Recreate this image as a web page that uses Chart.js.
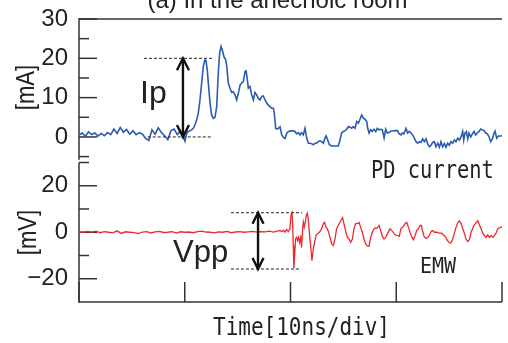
<!DOCTYPE html>
<html><head><meta charset="utf-8">
<script src="https://cdn.jsdelivr.net/npm/chart.js@4/dist/chart.umd.min.js"></script>
<style>html,body{margin:0;padding:0;background:#fff;overflow:hidden}canvas{display:block}</style>
</head><body>
<canvas id="c" width="508" height="343"></canvas>
<script>
// ---------- texts ----------
const titleText = "(a) In the anechoic room";
const xAxisTitle = "Time[10ns/div]";
const topUnit = "[mA]";
const botUnit = "[mV]";
const seriesNames = ["PD current", "EMW"];
const markerNames = ["Ip", "Vpp"];

// ---------- ticks ----------
const xTickValues = [0, 10, 20, 30, 40];
const topTickValues = [0, 10, 20, 30];
const topTickLabels = ["0", "10", "20", "30"];
const topMinorTicks = [-5, 5, 15, 25];
const botTickValues = [-20, 0, 20];
const botTickLabels = ["\u221220", "0", "20"];
const botMinorTicks = [-10, 10, 30];

// ---------- annotation levels ----------
const ipLevels = [0, 20];          // mA
const vppLevels = [-15.8, 8.4];    // mV

// ---------- PD current (mA) vs time (ns) ----------
const pdTime = [0,0.3,0.6,0.9,1.2,1.5,1.8,2.1,2.4,2.7,3.0,3.3,3.6,3.9,4.2,4.5,4.8,5.1,5.4,5.7,6.0,6.3,6.6,6.9,7.2,7.5,7.8,8.1,8.4,8.7,9.0,9.3,9.6,9.85,
10.02,10.18,10.34,10.49,10.65,10.81,10.97,11.12,11.28,11.44,11.6,11.75,11.91,12.01,12.13,12.23,12.39,12.54,12.7,12.86,13.02,13.17,13.3,13.43,13.55,13.71,13.87,13.96,14.12,14.28,14.44,14.59,14.75,14.91,15.07,15.23,15.38,15.54,15.7,15.79,15.92,16.01,16.17,16.33,16.49,16.64,16.8,16.96,17.12,17.28,17.43,17.59,17.75,17.91,18.06,18.22,18.38,18.47,18.6,18.73,18.85,19.01,19.17,19.33,19.48,19.64,19.8,
20.2,20.42,20.58,20.74,20.9,21.05,21.21,21.37,21.53,21.69,21.84,22.0,22.16,22.32,22.47,22.63,22.79,22.95,23.1,23.26,23.36,23.48,23.67,23.89,24.21,24.52,24.68,24.84,25.0,25.16,25.31,25.47,25.63,25.79,25.94,26.1,26.26,26.42,26.57,26.73,26.89,27.05,27.21,27.3,27.43,27.58,27.74,27.9,28.06,28.21,28.37,28.53,28.69,28.85,29.0,29.16,29.32,29.48,29.73,
29.88,30.13,30.26,30.45,30.57,30.73,30.92,31.08,31.24,31.39,31.55,31.71,31.87,32.03,32.18,32.34,32.5,32.66,32.81,32.97,33.13,33.29,33.44,33.6,33.76,33.92,34.08,34.23,34.39,34.55,34.71,34.86,35.02,35.18,35.34,35.5,35.65,35.81,35.97,36.13,36.28,36.38,36.5,36.63,36.76,36.88,37.04,37.2,37.36,37.51,37.67,37.83,37.99,38.14,38.3,38.46,38.62,38.78,38.93,39.09,39.25,39.34,39.5,39.66,39.91,40];
const pdCurrent = [0.5,1.0,0.2,1.3,0.6,1.0,0.2,0.9,0.3,1.1,0.6,2.0,0.9,2.4,1.2,1.9,0.7,1.6,0.6,1.1,0.7,-0.4,-0.9,1.8,0.7,2.3,1.1,0.3,-0.7,1.6,2.0,0.6,1.6,0.1,
-1.1,0.9,1.4,1.6,1.8,2.2,3.1,4.3,6.0,9.4,13.7,17.9,19.6,19.4,17.0,13.7,8.6,5.6,4.75,5.0,7.7,16.2,21.3,23.0,22.1,20.4,19.6,18.3,13.7,12.4,11.3,11.5,10.7,9.4,11.1,13.2,13.7,14.1,16.6,17.0,14.5,12.4,12.8,10.7,9.4,11.3,10.7,9.8,9.4,10.3,10.4,9.4,8.6,8.1,7.7,7.3,7.3,6.0,2.2,2.0,2.2,2.6,0.5,-0.1,-0.4,0.9,1.4,
1.6,1.4,0.8,1.1,0.5,1.1,0.5,2.2,-0.3,-1.6,-1.6,-1.7,-2.0,-1.6,-1.6,-1.2,-1.0,-1.2,-1.6,-0.3,0.25,-0.5,-2.0,-2.3,-2.3,-2.3,-0.8,1.0,1.4,1.6,1.95,2.6,2.5,2.2,2.6,2.2,3.9,3.5,4.5,5.6,4.7,4.5,3.9,2.2,1.0,1.8,1.4,1.95,1.4,2.2,1.8,1.95,1.8,-0.3,1.95,1.0,1.1,1.5,1.5,
1.6,1.6,0.8,0.5,1.0,0.8,2.2,1.0,1.4,1.0,0.5,-0.3,-1.2,-1.6,-1.2,-1.4,-0.5,-1.2,-0.5,-1.7,-2.5,-2.1,-1.4,-1.2,-2.5,-1.6,-2.6,-1.2,-2.5,-1.7,-2.6,-1.6,-2.1,-1.2,-1.6,-0.8,-1.2,-0.3,-0.8,0.0,1.4,-0.8,1.0,1.4,-0.5,1.0,0.0,0.8,1.4,0.5,1.0,1.4,2.0,1.8,1.6,1.0,0.8,0.0,-1.2,-0.5,1.0,1.5,-0.3,0.25,0.25,0.3];

// ---------- EMW (mV) vs time (ns) ----------
const emwTime = [0,0.4,0.8,1.2,1.6,2.0,2.4,2.8,3.2,3.6,4.0,4.4,4.8,5.2,5.6,6.0,6.4,6.8,7.2,7.6,8.0,8.4,8.8,9.2,9.6,10.0,10.4,10.8,11.2,11.6,12.0,12.4,12.8,13.2,13.6,14.0,14.4,14.8,15.2,15.6,16.0,16.4,16.8,17.2,17.6,18.0,18.4,18.8,
19.0,19.16,19.32,19.47,19.63,19.79,19.95,20.04,20.14,20.2,20.26,20.32,20.39,20.48,20.58,20.67,20.77,20.86,20.96,21.05,21.15,21.21,21.3,21.4,21.49,21.59,21.68,21.78,21.9,22.03,22.15,22.28,22.41,22.53,22.66,22.79,22.94,23.1,23.23,23.35,23.48,23.61,23.73,23.89,24.05,24.21,24.36,24.52,24.68,24.84,24.93,25.06,25.21,25.37,25.53,25.69,25.85,26.0,26.16,26.32,26.48,26.63,26.79,26.95,27.11,27.26,27.42,27.58,27.74,27.9,28.05,28.21,28.37,28.53,28.68,28.84,29.0,29.16,29.32,
29.41,29.66,29.88,30.1,30.29,30.45,30.61,30.83,30.99,31.15,31.3,31.49,31.62,31.78,31.93,32.09,32.25,32.38,32.5,32.66,32.82,32.97,33.13,33.29,33.45,33.61,33.83,34.05,34.3,34.52,34.68,34.84,35.03,35.18,35.34,35.5,35.66,35.81,35.97,36.13,36.29,36.44,36.6,36.76,36.92,37.08,37.23,37.39,37.55,37.71,37.86,38.02,38.18,38.34,38.49,38.65,38.81,38.97,39.13,39.28,39.44,39.6,39.76,39.98,40];
const emwVoltage = [0.2,0.0,0.4,0.1,0.5,-0.2,0.3,0.0,-0.3,0.6,-0.5,0.2,0.0,-0.2,-0.6,0.1,0.3,-0.3,0.2,0.4,-0.1,0.0,0.3,-0.4,0.2,0.0,0.1,-0.2,0.3,0.5,0.1,0.0,-0.3,0.2,0.0,0.4,-0.2,0.1,0.3,0.0,0.2,0.4,0.1,0.3,0.2,0.5,0.1,0.6,
0.7,0.3,0.8,0.0,1.2,0.3,1.5,7.2,8.4,4.3,-5.7,-15.5,-10,-2.9,-2.2,-3.6,-2.2,-4.3,-2.2,-6.5,1.5,4.3,2.2,4.3,7.2,8.2,5.7,0,-5.7,-12.2,-7.2,-4.3,-1.4,-0.7,-0.3,0.3,1.5,3.7,4.3,2.2,1.5,0,-2.2,-5.0,-5.7,-2.9,1.5,2.9,4.3,5.7,6.3,3.6,0.7,-2.2,-2.9,-4.3,-2.9,1.5,3.7,3.7,4.2,2.2,0,-2.9,-5.0,-5.9,-6.0,-2.2,0,1.5,1.9,1.8,2.9,0.7,-1.7,-2.9,-2.2,-0.7,0.7,
1.45,0.3,-1.1,-1.4,-1.7,1.7,2.2,3.7,4.3,2.2,0,-2.2,-3.2,-1.4,0.7,1.5,2.9,2.9,0.3,-2.2,-2.6,-2.2,-1.4,0.3,0.7,0,0,-0.4,-0.4,-1.4,-2.2,-3.6,-4.6,-4.6,-2.9,-0.3,2.2,4.0,4.9,3.7,1.5,-0.4,-2.9,-4.0,-3.2,0,1.7,3.2,4.0,4.9,3.2,1.5,-0.4,-1.4,-2.2,-1.1,-2.2,-1.4,-2.2,-1.4,-0.4,1.5,2.0,2.2,2.2];

// ---------- drawing helpers ----------
function seg(c, x1, y1, x2, y2) { c.beginPath(); c.moveTo(x1, y1); c.lineTo(x2, y2); c.stroke(); }
function txt(c, s, x, y, font, sx, sy, align, baseline, rot) {
  c.save(); c.translate(x, y); if (rot) c.rotate(rot); c.scale(sx, sy);
  c.font = font; c.textAlign = align; c.textBaseline = baseline; c.fillStyle = '#222';
  c.fillText(s, 0, 0); c.restore();
}
function arrow(c, x, yTop, yBot, hw, hl) {
  seg(c, x, yTop + 1, x, yBot - 1);
  c.beginPath(); c.moveTo(x - hw, yTop + hl); c.lineTo(x, yTop); c.lineTo(x + hw, yTop + hl); c.stroke();
  c.beginPath(); c.moveTo(x - hw, yBot - hl); c.lineTo(x, yBot); c.lineTo(x + hw, yBot - hl); c.stroke();
}

const framePlugin = {
  id: 'frame',
  beforeDatasetsDraw(chart) {
    const c = chart.ctx, X = chart.scales.x, YT = chart.scales.yTop, YB = chart.scales.yBot;
    const L = X.getPixelForValue(0), R = X.getPixelForValue(40);
    c.save();
    c.strokeStyle = '#333'; c.lineWidth = 1.5;
    // top panel
    seg(c, L, YT.getPixelForValue(30), R, YT.getPixelForValue(30));
    seg(c, L, YT.getPixelForValue(30) - 0.75, L, YT.getPixelForValue(-5.8));
    topTickValues.forEach(v => { const p = YT.getPixelForValue(v); seg(c, L, p, L + 18, p); });
    topMinorTicks.forEach(v => { const p = YT.getPixelForValue(v); seg(c, L, p, L + 10, p); });
    // bottom panel
    const yb0 = YB.getPixelForValue(-30);
    seg(c, L, YB.getPixelForValue(30), L, yb0 + 0.75);
    seg(c, L, yb0, R, yb0);
    botTickValues.forEach(v => { const p = YB.getPixelForValue(v); seg(c, L, p, L + 18, p); });
    botMinorTicks.forEach(v => { const p = YB.getPixelForValue(v); seg(c, L, p, L + 10, p); });
    xTickValues.forEach(v => { const p = X.getPixelForValue(v); seg(c, p, yb0, p, yb0 - 20); });
    c.restore();
  },
  afterDatasetsDraw(chart) {
    const c = chart.ctx, X = chart.scales.x, YT = chart.scales.yTop, YB = chart.scales.yBot;
    c.save();
    // dashed reference lines
    c.strokeStyle = '#222'; c.lineWidth = 1; c.setLineDash([3, 2]);
    seg(c, X.getPixelForValue(6.15), YT.getPixelForValue(ipLevels[1]), X.getPixelForValue(12.67), YT.getPixelForValue(ipLevels[1]));
    seg(c, X.getPixelForValue(6.5), YT.getPixelForValue(ipLevels[0]), X.getPixelForValue(12.58), YT.getPixelForValue(ipLevels[0]));
    seg(c, X.getPixelForValue(14.37), YB.getPixelForValue(vppLevels[1]), X.getPixelForValue(21.09), YB.getPixelForValue(vppLevels[1]));
    seg(c, X.getPixelForValue(14.37), YB.getPixelForValue(vppLevels[0]), X.getPixelForValue(20.9), YB.getPixelForValue(vppLevels[0]));
    c.setLineDash([]);
    // arrows
    c.strokeStyle = '#111'; c.lineWidth = 2.4; c.lineJoin = 'miter';
    arrow(c, X.getPixelForValue(9.83), YT.getPixelForValue(ipLevels[1]), YT.getPixelForValue(ipLevels[0]), 6, 12);
    arrow(c, X.getPixelForValue(16.93), YB.getPixelForValue(vppLevels[1]), YB.getPixelForValue(vppLevels[0]), 5.5, 11);
    c.restore();
    // texts
    txt(c, titleText, 277.5, 8, '24px "Liberation Sans"', 1, 1, 'center', 'alphabetic');
    txt(c, markerNames[0], 140, 103, '32px "Liberation Sans"', 1, 1, 'left', 'alphabetic');
    txt(c, markerNames[1], 173, 262, '31px "Liberation Sans"', 1, 1, 'left', 'alphabetic');
    txt(c, seriesNames[0], 371, 178, '20.4px "DejaVu Sans Mono"', 1, 1.2, 'left', 'alphabetic');
    txt(c, seriesNames[1], 420, 273, '20px "DejaVu Sans Mono"', 1, 1.1, 'left', 'alphabetic');
    txt(c, xAxisTitle, 213, 335, '21px "DejaVu Sans Mono"', 1, 1.2, 'left', 'alphabetic');
    txt(c, topUnit, 27, 87.5, '26px "Liberation Sans"', 0.85, 1, 'center', 'middle', -Math.PI / 2);
    txt(c, botUnit, 29, 232.5, '26px "Liberation Sans"', 0.85, 1, 'center', 'middle', -Math.PI / 2);
  }
};

function yScale(weight, stackWeight, min, max, values, labels) {
  return {
    type: 'linear', position: 'left', stack: 'panels', stackWeight: stackWeight, weight: weight,
    min: min, max: max,
    grid: { display: false, drawTicks: true, tickLength: 11 }, border: { display: false },
    ticks: {
      autoSkip: false, padding: 0, color: '#222',
      font: { family: 'Liberation Sans', size: 24 },
      callback: (v, i) => labels[i]
    },
    afterBuildTicks: s => { s.ticks = values.map(v => ({ value: v })); },
    afterFit: s => { s.width = 79; }
  };
}

new Chart(document.getElementById('c'), {
  type: 'line',
  data: {
    datasets: [
      { label: seriesNames[0], data: pdTime.map((t, i) => ({ x: t, y: pdCurrent[i] })), yAxisID: 'yTop',
        borderColor: '#2b5cb0', borderWidth: 1.6, pointRadius: 0, tension: 0, fill: false },
      { label: seriesNames[1], data: emwTime.map((t, i) => ({ x: t, y: emwVoltage[i] })), yAxisID: 'yBot',
        borderColor: '#f0282d', borderWidth: 1.3, pointRadius: 0, tension: 0, fill: false }
    ]
  },
  options: {
    responsive: false, animation: false, devicePixelRatio: 1,
    layout: { padding: { left: 0, right: 6, top: 19, bottom: 41 } },
    plugins: { legend: { display: false }, tooltip: { enabled: false } },
    scales: {
      x: { type: 'linear', min: 0, max: 40, display: false },
      yBot: yScale(0, 139.5, -30, 30, botTickValues, botTickLabels),
      yTop: yScale(1, 143.5, -6.5, 30, topTickValues, topTickLabels)
    }
  },
  plugins: [framePlugin]
});
</script>
</body></html>
